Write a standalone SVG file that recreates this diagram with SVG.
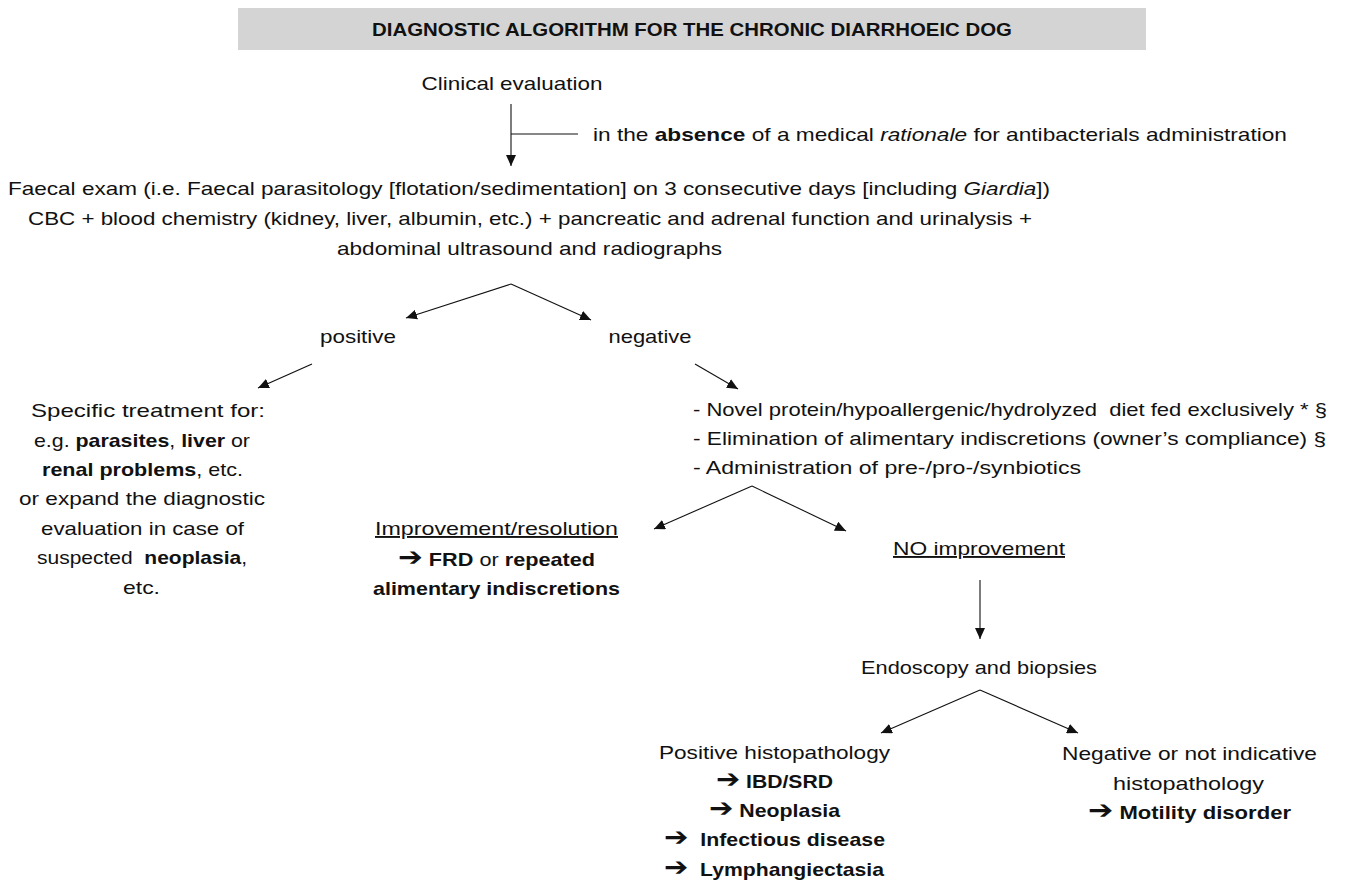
<svg xmlns="http://www.w3.org/2000/svg" width="1360" height="882" viewBox="0 0 1360 882">
<style>
text{font-family:"Liberation Sans",Arial,sans-serif;font-size:19px;fill:#111;white-space:pre}
.t{font-weight:bold;font-size:18px}
.m{text-anchor:middle}
.b{font-weight:bold}
.i{font-style:italic}
.u{text-decoration:underline}
.ar{font-family:"DejaVu Sans",sans-serif;font-weight:bold;font-size:26px}
.c{stroke:#111;stroke-width:1.1;fill:none}
</style>
<defs>
<marker id="ah" markerUnits="userSpaceOnUse" markerWidth="12" markerHeight="10" refX="11" refY="5" orient="auto">
<path d="M0,0 L11,5 L0,10 Z" fill="#111"/>
</marker>
</defs>
<rect x="238" y="8" width="908" height="42" fill="#d4d4d4"/>
<text class="t m" x="692" y="36" textLength="640" lengthAdjust="spacingAndGlyphs">DIAGNOSTIC ALGORITHM FOR THE CHRONIC DIARRHOEIC DOG</text>

<g id="connectors">
<line class="c" x1="511" y1="104" x2="511" y2="166" marker-end="url(#ah)"/>
<line class="c" x1="511" y1="134" x2="578" y2="134"/>
<line class="c" x1="511" y1="284" x2="406" y2="318" marker-end="url(#ah)"/>
<line class="c" x1="511" y1="284" x2="591" y2="320" marker-end="url(#ah)"/>
<line class="c" x1="312" y1="364" x2="258" y2="388" marker-end="url(#ah)"/>
<line class="c" x1="695" y1="364" x2="738" y2="389" marker-end="url(#ah)"/>
<line class="c" x1="752" y1="486" x2="654" y2="529" marker-end="url(#ah)"/>
<line class="c" x1="752" y1="486" x2="846" y2="531" marker-end="url(#ah)"/>
<line class="c" x1="980" y1="580" x2="980" y2="639" marker-end="url(#ah)"/>
<line class="c" x1="980" y1="690" x2="881" y2="733" marker-end="url(#ah)"/>
<line class="c" x1="980" y1="690" x2="1078" y2="733" marker-end="url(#ah)"/>
</g>

<g id="n-clinical"><text class="m" x="512" y="90" textLength="181" lengthAdjust="spacingAndGlyphs">Clinical evaluation</text></g>
<g id="n-absence"><text x="593" y="141" textLength="694" lengthAdjust="spacingAndGlyphs">in the <tspan class="b">absence</tspan> of a medical <tspan class="i">rationale</tspan> for antibacterials administration</text></g>
<g id="n-faecal">
<text class="m" x="529" y="195" textLength="1042" lengthAdjust="spacingAndGlyphs">Faecal exam (i.e. Faecal parasitology [flotation/sedimentation] on 3 consecutive days [including <tspan class="i">Giardia</tspan>])</text>
<text class="m" x="530" y="225" textLength="1004" lengthAdjust="spacingAndGlyphs">CBC + blood chemistry (kidney, liver, albumin, etc.) + pancreatic and adrenal function and urinalysis +</text>
<text class="m" x="529.5" y="255" textLength="385" lengthAdjust="spacingAndGlyphs">abdominal ultrasound and radiographs</text>
</g>
<g id="n-positive"><text class="m" x="358" y="343" textLength="76" lengthAdjust="spacingAndGlyphs">positive</text></g>
<g id="n-negative"><text class="m" x="650" y="343" textLength="83" lengthAdjust="spacingAndGlyphs">negative</text></g>
<g id="n-specific">
<text class="m" x="148" y="417" textLength="234" lengthAdjust="spacingAndGlyphs">Specific treatment for:</text>
<text class="m" x="142" y="447" textLength="216" lengthAdjust="spacingAndGlyphs">e.g. <tspan class="b">parasites</tspan>, <tspan class="b">liver</tspan> or</text>
<text class="m" x="142.5" y="476" textLength="201" lengthAdjust="spacingAndGlyphs"><tspan class="b">renal problems</tspan>, etc.</text>
<text class="m" x="142" y="505" textLength="246" lengthAdjust="spacingAndGlyphs">or expand the diagnostic</text>
<text class="m" x="142.5" y="535" textLength="203" lengthAdjust="spacingAndGlyphs">evaluation in case of</text>
<text class="m" x="142" y="564" textLength="210" lengthAdjust="spacingAndGlyphs">suspected  <tspan class="b">neoplasia</tspan>,</text>
<text class="m" x="141.5" y="594" textLength="37" lengthAdjust="spacingAndGlyphs">etc.</text>
</g>
<g id="n-diet">
<text x="693" y="416" textLength="634" lengthAdjust="spacingAndGlyphs">- Novel protein/hypoallergenic/hydrolyzed  diet fed exclusively * §</text>
<text x="693" y="445" textLength="633" lengthAdjust="spacingAndGlyphs">- Elimination of alimentary indiscretions (owner’s compliance) §</text>
<text x="693" y="474" textLength="388" lengthAdjust="spacingAndGlyphs">- Administration of pre-/pro-/synbiotics</text>
</g>
<g id="n-improvement">
<text class="m u" x="496.5" y="535" textLength="243" lengthAdjust="spacingAndGlyphs">Improvement/resolution</text>
<text class="m" x="496.5" y="566" textLength="197" lengthAdjust="spacingAndGlyphs"><tspan class="ar">➔</tspan> <tspan class="b">FRD</tspan> or <tspan class="b">repeated</tspan></text>
<text class="m b" x="496.5" y="595" textLength="247" lengthAdjust="spacingAndGlyphs">alimentary indiscretions</text>
</g>
<g id="n-noimprovement"><text class="m u" x="979" y="555" textLength="172" lengthAdjust="spacingAndGlyphs">NO improvement</text></g>
<g id="n-endoscopy"><text class="m" x="979" y="674" textLength="236" lengthAdjust="spacingAndGlyphs">Endoscopy and biopsies</text></g>
<g id="n-poshisto">
<text class="m" x="774.5" y="759" textLength="231" lengthAdjust="spacingAndGlyphs">Positive histopathology</text>
<text class="m b" x="774.5" y="788" textLength="117" lengthAdjust="spacingAndGlyphs"><tspan class="ar">➔</tspan> IBD/SRD</text>
<text class="m b" x="774.5" y="817" textLength="131" lengthAdjust="spacingAndGlyphs"><tspan class="ar">➔</tspan> Neoplasia</text>
<text class="b" x="664" y="846" textLength="221" lengthAdjust="spacingAndGlyphs"><tspan class="ar">➔</tspan>  Infectious disease</text>
<text class="b" x="664" y="876" textLength="220" lengthAdjust="spacingAndGlyphs"><tspan class="ar">➔</tspan>  Lymphangiectasia</text>
</g>
<g id="n-neghisto">
<text class="m" x="1189.5" y="760" textLength="255" lengthAdjust="spacingAndGlyphs">Negative or not indicative</text>
<text class="m" x="1188.5" y="790" textLength="151" lengthAdjust="spacingAndGlyphs">histopathology</text>
<text class="m b" x="1189.5" y="819" textLength="203" lengthAdjust="spacingAndGlyphs"><tspan class="ar">➔</tspan> Motility disorder</text>
</g>
</svg>
